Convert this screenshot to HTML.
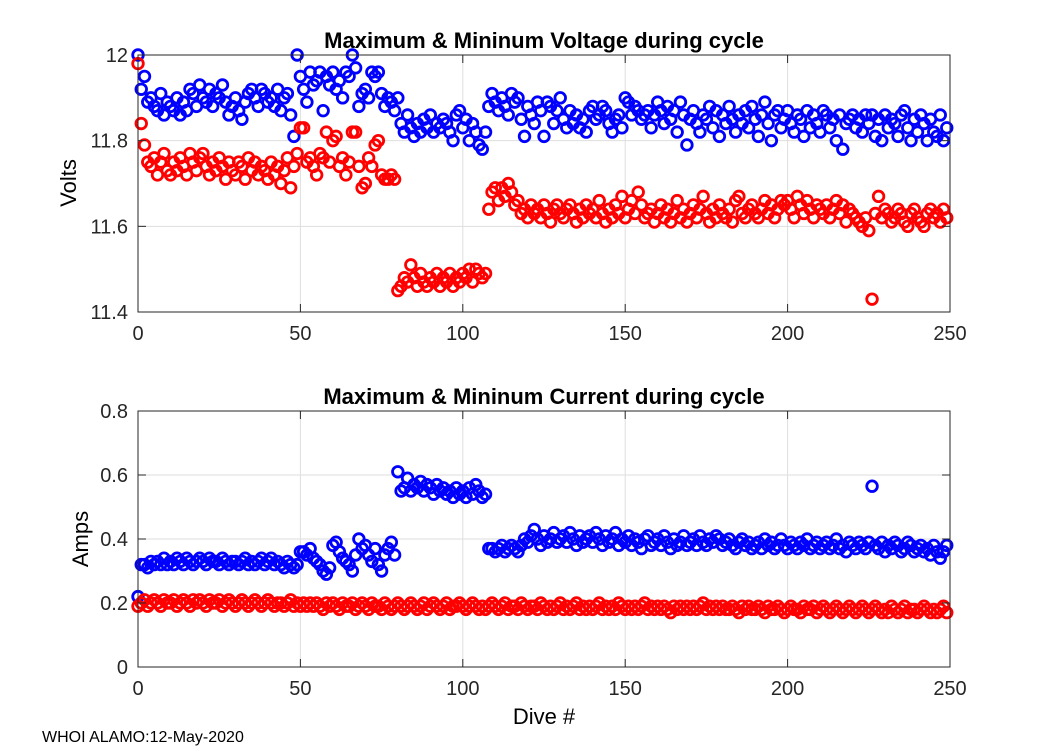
<!DOCTYPE html>
<html><head><meta charset="utf-8"><style>
body{margin:0;background:#fff}
svg{display:block;font-family:"Liberation Sans",Arial,sans-serif}
</style></head><body>
<svg id="chart" width="1050" height="750" viewBox="0 0 1050 750" xmlns="http://www.w3.org/2000/svg">
<rect width="1050" height="750" fill="#fff"/>
<g id="top"></g>
<g id="bot"></g>
<text x="544" y="48" text-anchor="middle" font-size="22" font-weight="bold">Maximum &amp; Mininum Voltage during cycle</text>
<text x="544" y="404" text-anchor="middle" font-size="22" font-weight="bold">Maximum &amp; Mininum Current during cycle</text>
<text transform="translate(76,183) rotate(-90)" text-anchor="middle" font-size="22">Volts</text>
<text transform="translate(88,539) rotate(-90)" text-anchor="middle" font-size="22">Amps</text>
<text x="544" y="724" text-anchor="middle" font-size="22">Dive #</text>
<text x="42" y="742" font-size="16">WHOI ALAMO:12-May-2020</text>
</svg>
<script>
const xTicks=[0,50,100,150,200,250];
const vTicks=[11.4,11.6,11.8,12];
const vTickLabels=["11.4","11.6","11.8","12"];
const aTicks=[0,0.2,0.4,0.6,0.8];
const aTickLabels=["0","0.2","0.4","0.6","0.8"];
const vMax=[12.00,11.92,11.95,11.89,11.90,11.88,11.87,11.91,11.86,11.89,
11.88,11.87,11.90,11.86,11.89,11.87,11.92,11.91,11.88,11.93,
11.90,11.89,11.92,11.88,11.91,11.90,11.93,11.89,11.86,11.88,
11.90,11.87,11.85,11.89,11.91,11.92,11.90,11.88,11.92,11.91,
11.89,11.90,11.88,11.92,11.87,11.90,11.91,11.86,11.81,12.00,
11.95,11.92,11.89,11.96,11.93,11.94,11.96,11.87,11.95,11.93,
11.96,11.92,11.94,11.90,11.96,11.95,12.00,11.97,11.88,11.91,
11.92,11.90,11.96,11.95,11.96,11.91,11.88,11.90,11.89,11.87,
11.90,11.84,11.82,11.86,11.83,11.81,11.84,11.82,11.85,11.83,
11.86,11.82,11.84,11.83,11.85,11.84,11.82,11.80,11.86,11.87,
11.83,11.85,11.80,11.84,11.82,11.79,11.78,11.82,11.88,11.91,
11.89,11.87,11.90,11.88,11.86,11.91,11.89,11.90,11.85,11.81,
11.88,11.86,11.84,11.89,11.87,11.81,11.89,11.88,11.84,11.87,
11.90,11.85,11.83,11.87,11.84,11.86,11.83,11.85,11.82,11.87,
11.88,11.85,11.86,11.88,11.87,11.84,11.82,11.85,11.86,11.83,
11.90,11.89,11.86,11.88,11.87,11.85,11.86,11.87,11.83,11.86,
11.89,11.87,11.84,11.88,11.85,11.87,11.82,11.89,11.86,11.79,
11.85,11.87,11.84,11.82,11.86,11.85,11.88,11.83,11.87,11.81,
11.86,11.84,11.88,11.85,11.82,11.86,11.84,11.87,11.83,11.88,
11.85,11.81,11.86,11.89,11.84,11.80,11.86,11.87,11.83,11.85,
11.87,11.84,11.82,11.86,11.85,11.81,11.87,11.83,11.86,11.84,
11.82,11.87,11.86,11.83,11.85,11.80,11.86,11.78,11.84,11.85,
11.86,11.83,11.85,11.82,11.86,11.84,11.86,11.81,11.85,11.80,
11.86,11.83,11.85,11.84,11.81,11.86,11.87,11.83,11.80,11.85,
11.82,11.86,11.84,11.80,11.85,11.82,11.81,11.86,11.80,11.83];
const vMin=[11.98,11.84,11.79,11.75,11.74,11.76,11.72,11.75,11.77,11.73,
11.72,11.75,11.73,11.76,11.74,11.72,11.77,11.75,11.73,11.76,
11.77,11.74,11.72,11.75,11.73,11.76,11.74,11.71,11.75,11.73,
11.72,11.75,11.74,11.71,11.76,11.73,11.75,11.72,11.74,11.73,
11.71,11.75,11.72,11.74,11.70,11.73,11.76,11.69,11.74,11.77,
11.83,11.83,11.75,11.76,11.74,11.72,11.77,11.76,11.82,11.75,
11.80,11.81,11.74,11.76,11.72,11.75,11.82,11.82,11.74,11.69,
11.70,11.76,11.74,11.79,11.80,11.72,11.71,11.71,11.72,11.71,
11.45,11.46,11.48,11.47,11.51,11.48,11.46,11.49,11.47,11.46,
11.48,11.47,11.49,11.46,11.48,11.47,11.49,11.46,11.48,11.47,
11.49,11.48,11.50,11.47,11.50,11.49,11.48,11.49,11.64,11.68,
11.69,11.66,11.69,11.67,11.70,11.68,11.65,11.66,11.63,11.64,
11.62,11.65,11.63,11.64,11.62,11.65,11.63,11.61,11.64,11.65,
11.63,11.62,11.64,11.65,11.63,11.61,11.64,11.62,11.65,11.63,
11.64,11.62,11.66,11.63,11.61,11.64,11.62,11.65,11.63,11.67,
11.62,11.64,11.66,11.63,11.68,11.65,11.62,11.63,11.64,11.61,
11.63,11.65,11.62,11.64,11.61,11.63,11.66,11.62,11.64,11.61,
11.63,11.65,11.62,11.64,11.67,11.63,11.61,11.64,11.62,11.65,
11.63,11.62,11.64,11.61,11.66,11.67,11.63,11.62,11.64,11.65,
11.63,11.62,11.64,11.66,11.63,11.65,11.62,11.64,11.66,11.65,
11.66,11.64,11.62,11.67,11.65,11.63,11.66,11.64,11.62,11.65,
11.64,11.63,11.65,11.62,11.64,11.66,11.63,11.65,11.61,11.64,
11.63,11.62,11.61,11.60,11.62,11.59,11.43,11.63,11.67,11.62,
11.64,11.63,11.61,11.62,11.64,11.63,11.61,11.60,11.63,11.64,
11.62,11.61,11.60,11.63,11.64,11.62,11.63,11.61,11.64,11.62];
const aMax=[0.22,0.32,0.32,0.31,0.33,0.32,0.33,0.32,0.34,0.32,
0.33,0.32,0.34,0.33,0.32,0.34,0.33,0.32,0.33,0.34,
0.33,0.32,0.34,0.33,0.33,0.32,0.34,0.33,0.32,0.33,
0.33,0.32,0.33,0.34,0.32,0.33,0.32,0.33,0.34,0.32,
0.33,0.34,0.32,0.33,0.32,0.31,0.33,0.32,0.31,0.32,
0.36,0.36,0.35,0.37,0.34,0.33,0.32,0.30,0.29,0.31,
0.38,0.39,0.36,0.34,0.33,0.32,0.30,0.35,0.40,0.37,
0.38,0.35,0.33,0.37,0.32,0.30,0.35,0.37,0.39,0.35,
0.61,0.55,0.56,0.59,0.55,0.57,0.56,0.58,0.55,0.57,
0.56,0.54,0.57,0.55,0.56,0.54,0.55,0.53,0.56,0.54,
0.55,0.53,0.56,0.54,0.57,0.55,0.53,0.54,0.37,0.37,
0.36,0.37,0.38,0.36,0.37,0.38,0.37,0.36,0.38,0.40,
0.39,0.41,0.43,0.40,0.38,0.41,0.39,0.40,0.42,0.39,
0.40,0.41,0.39,0.42,0.40,0.38,0.41,0.39,0.40,0.41,
0.39,0.42,0.40,0.38,0.41,0.39,0.40,0.42,0.38,0.40,
0.39,0.41,0.38,0.40,0.39,0.37,0.40,0.41,0.38,0.39,
0.40,0.38,0.41,0.39,0.37,0.40,0.38,0.39,0.41,0.38,
0.39,0.40,0.38,0.41,0.39,0.38,0.40,0.39,0.41,0.40,
0.38,0.39,0.40,0.38,0.37,0.39,0.40,0.38,0.39,0.37,
0.38,0.39,0.37,0.40,0.38,0.39,0.37,0.38,0.40,0.38,
0.37,0.39,0.38,0.37,0.39,0.38,0.40,0.37,0.38,0.39,
0.37,0.38,0.39,0.37,0.38,0.40,0.37,0.38,0.36,0.39,
0.38,0.37,0.39,0.38,0.37,0.39,0.565,0.38,0.37,0.39,
0.36,0.38,0.37,0.39,0.38,0.36,0.37,0.39,0.38,0.36,
0.37,0.38,0.36,0.37,0.35,0.38,0.36,0.34,0.36,0.38];
const aMin=[0.19,0.20,0.21,0.19,0.20,0.21,0.20,0.19,0.21,0.20,
0.20,0.21,0.19,0.20,0.21,0.20,0.19,0.21,0.20,0.21,
0.20,0.19,0.21,0.20,0.20,0.21,0.19,0.20,0.21,0.20,
0.19,0.20,0.21,0.20,0.19,0.20,0.21,0.20,0.19,0.20,
0.21,0.20,0.19,0.20,0.20,0.19,0.20,0.21,0.19,0.20,
0.19,0.20,0.19,0.20,0.19,0.20,0.19,0.18,0.20,0.19,
0.20,0.19,0.18,0.20,0.19,0.19,0.20,0.18,0.19,0.20,
0.19,0.18,0.20,0.19,0.19,0.18,0.20,0.19,0.18,0.19,
0.20,0.19,0.18,0.19,0.20,0.19,0.18,0.19,0.20,0.18,
0.19,0.20,0.19,0.18,0.19,0.20,0.18,0.19,0.19,0.20,
0.19,0.18,0.19,0.20,0.19,0.18,0.19,0.18,0.19,0.20,
0.19,0.18,0.19,0.20,0.18,0.19,0.19,0.18,0.20,0.19,
0.18,0.19,0.19,0.18,0.20,0.19,0.18,0.19,0.18,0.19,
0.20,0.18,0.19,0.18,0.19,0.20,0.18,0.19,0.18,0.19,
0.18,0.19,0.20,0.18,0.19,0.18,0.19,0.18,0.20,0.19,
0.18,0.19,0.18,0.19,0.18,0.19,0.20,0.18,0.19,0.18,
0.19,0.18,0.19,0.18,0.17,0.19,0.18,0.19,0.18,0.19,
0.18,0.19,0.18,0.19,0.20,0.18,0.19,0.18,0.19,0.18,
0.19,0.18,0.18,0.19,0.18,0.17,0.19,0.18,0.19,0.18,
0.18,0.19,0.18,0.17,0.19,0.18,0.18,0.19,0.18,0.17,
0.18,0.19,0.18,0.18,0.17,0.19,0.18,0.18,0.19,0.17,
0.18,0.19,0.18,0.17,0.18,0.19,0.18,0.17,0.18,0.19,
0.18,0.17,0.18,0.19,0.18,0.17,0.18,0.19,0.18,0.17,
0.18,0.17,0.19,0.18,0.17,0.18,0.19,0.17,0.18,0.18,
0.17,0.18,0.19,0.18,0.17,0.18,0.17,0.18,0.19,0.17];

const NS='http://www.w3.org/2000/svg';
const X0=138,X1=950,XMAX=250;
function xs(v){return X0+(v/XMAX)*(X1-X0);}
function mk(parent,tag,attrs){const e=document.createElementNS(NS,tag);for(const k in attrs)e.setAttribute(k,attrs[k]);parent.appendChild(e);return e;}

function panel(g,yTop,yBot,ymin,ymax,ticks,labels,series,key){
  const ys=v=>yBot-(v-ymin)/(ymax-ymin)*(yBot-yTop);
  xTicks.forEach(t=>{const l=mk(g,'line',{x1:xs(t),x2:xs(t),y1:yTop,y2:yBot,stroke:'#dedede','stroke-width':1});
    
    });
  ticks.forEach(t=>{const l=mk(g,'line',{x1:X0,x2:X1,y1:ys(t),y2:ys(t),stroke:'#dedede','stroke-width':1});
    
    });
  series.forEach(s=>{
    s.vals.forEach((v,i)=>{const c=mk(g,'circle',{cx:xs(i),cy:ys(v),r:5.3,fill:'none',stroke:s.color,'stroke-width':2.8});
      
      });
  });
  const box=mk(g,'rect',{x:X0,y:yTop,width:X1-X0,height:yBot-yTop,fill:'none',stroke:'#262626','stroke-width':1});
  
  
  xTicks.forEach(t=>{
    mk(g,'line',{x1:xs(t),x2:xs(t),y1:yBot,y2:yBot-8,stroke:'#262626'});
    mk(g,'line',{x1:xs(t),x2:xs(t),y1:yTop,y2:yTop+8,stroke:'#262626'});
    const tx=mk(g,'text',{x:xs(t),y:yBot+28,'text-anchor':'middle','font-size':20,fill:'#262626'});
    tx.textContent=String(t);
    
    
  });
  ticks.forEach((t,i)=>{
    mk(g,'line',{x1:X0,x2:X0+8,y1:ys(t),y2:ys(t),stroke:'#262626'});
    mk(g,'line',{x1:X1,x2:X1-8,y1:ys(t),y2:ys(t),stroke:'#262626'});
    const tx=mk(g,'text',{x:X0-10,y:ys(t)+7,'text-anchor':'end','font-size':20,fill:'#262626'});
    tx.textContent=labels[i];
    
    
  });
}
panel(document.getElementById('top'),55,312,11.4,12,vTicks,vTickLabels,
  [{vals:vMax,color:'#0000ff',name:'max-voltage'},{vals:vMin,color:'#ff0000',name:'min-voltage'}],'voltage');
panel(document.getElementById('bot'),411,667,0,0.8,aTicks,aTickLabels,
  [{vals:aMax,color:'#0000ff',name:'max-current'},{vals:aMin,color:'#ff0000',name:'min-current'}],'current');
</script>
</body></html>
